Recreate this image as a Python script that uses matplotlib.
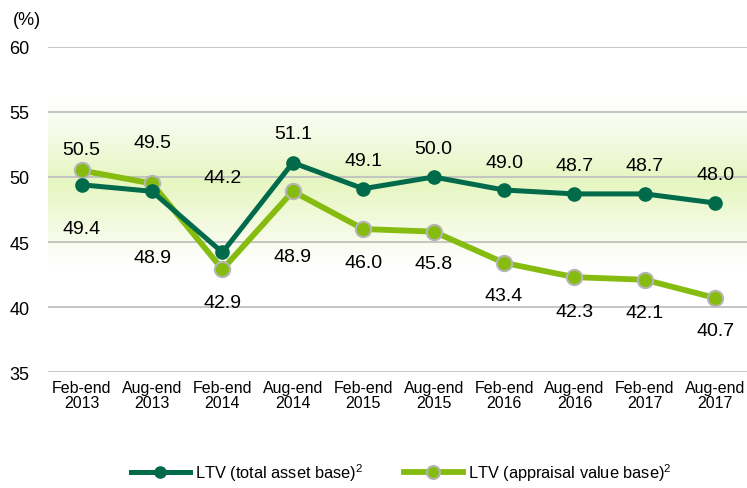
import matplotlib
matplotlib.use('Agg')
import matplotlib.pyplot as plt
import numpy as np
from matplotlib.colors import LinearSegmentedColormap

plt.rcParams['font.family'] = ['Liberation Sans', 'DejaVu Sans']
plt.rcParams['mathtext.fontset'] = 'custom'
plt.rcParams['mathtext.rm'] = 'Liberation Sans'

periods = ['Feb-end\n2013', 'Aug-end\n2013', 'Feb-end\n2014', 'Aug-end\n2014',
           'Feb-end\n2015', 'Aug-end\n2015', 'Feb-end\n2016', 'Aug-end\n2016',
           'Feb-end\n2017', 'Aug-end\n2017']
total_asset = [49.4, 48.9, 44.2, 51.1, 49.1, 50.0, 49.0, 48.7, 48.7, 48.0]
appraisal = [50.5, 49.5, 42.9, 48.9, 46.0, 45.8, 43.4, 42.3, 42.1, 40.7]

# label offsets in pixels (negative = above the point)
total_off = [44, 66, -75, -29, -28, -28, -28, -28, -28, -29]
appr_off = [-21, -41, 33, 65, 33, 32, 33, 34, 33, 33]

dark = '#006a4b'
light = '#86bc10'

fig = plt.figure(figsize=(7.47, 4.89), dpi=100)
ax = fig.add_axes([0.064, 0.237, 0.936, 0.665])

x = np.arange(len(periods))
ax.set_xlim(-0.48, 9.45)
ax.set_ylim(35, 60)

# soft green band behind the lines
cmap = LinearSegmentedColormap.from_list('band', ['#ffffff', '#f3fae0', '#e6f6c0', '#f3fae2', '#ffffff'])
ys = np.linspace(0, 1, 200).reshape(-1, 1)
ax.imshow(ys, extent=(-0.48, 9.45, 43.1, 56.2), origin='lower', aspect='auto',
          cmap=cmap, zorder=0)

for v in [35, 40, 45, 50, 55, 60]:
    ax.axhline(v, color='#c0c0c0', lw=1.3, zorder=1)

ax.plot(x, total_asset, color=dark, lw=3.6, marker='o', ms=9.5,
        mec=dark, mfc=dark, zorder=4, label=r'LTV (total asset base)$^{2}$')
ax.plot(x, appraisal, color=light, lw=4.2, marker='o', ms=11,
        mec='#b5b5b5', mew=1.5, mfc=light, zorder=3, label=r'LTV (appraisal value base)$^{2}$')

for i in range(len(x)):
    ax.annotate(f'{total_asset[i]:.1f}', (x[i], total_asset[i]), xytext=(0, -total_off[i]),
                textcoords='offset pixels', ha='center', va='center', fontsize=14, zorder=5)
    ax.annotate(f'{appraisal[i]:.1f}', (x[i], appraisal[i]), xytext=(0, -appr_off[i]),
                textcoords='offset pixels', ha='center', va='center', fontsize=14, zorder=5)

ax.set_xticks(x)
ax.set_xticklabels(periods, fontsize=11.5, linespacing=1.0)
ax.set_yticks([35, 40, 45, 50, 55, 60])
ax.set_yticklabels(['35', '40', '45', '50', '55', '60'], fontsize=13)
ax.tick_params(axis='both', length=0)
ax.tick_params(axis='y', pad=13)
ax.tick_params(axis='x', pad=6)
for s in ax.spines.values():
    s.set_visible(False)

fig.text(0.017, 0.958, '(%)', fontsize=13, va='center', ha='left')

leg = fig.legend(loc='center', bbox_to_anchor=(0.537, 0.032), ncol=2, frameon=False,
                 fontsize=11.8, handlelength=3.6, columnspacing=2.5, handletextpad=0.3,
                 borderaxespad=0, markerscale=0.85)

fig.savefig('out.png', dpi=100)
